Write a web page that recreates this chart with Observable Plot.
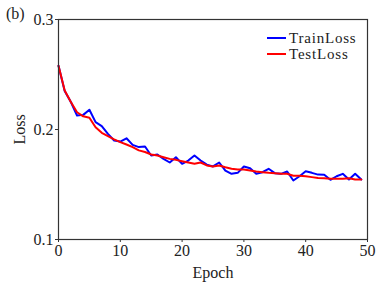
<!DOCTYPE html>
<html>
<head>
<meta charset="utf-8">
<script src="https://cdn.jsdelivr.net/npm/d3@7"></script>
<script src="https://cdn.jsdelivr.net/npm/@observablehq/plot@0.6"></script>
<style>
  html, body { margin: 0; padding: 0; background: #fff; }
  #wrap { position: relative; width: 382px; height: 286px; font-family: "Liberation Serif", "DejaVu Serif", serif; }
  #tag { position: absolute; left: 6px; top: 5px; font-size: 16px; color: #222; line-height: 18px; }
  #legend { position: absolute; left: 267px; top: 30px; font-size: 15px; color: #222; line-height: 16px; letter-spacing: 0.8px; }
  #legend div { display: flex; align-items: center; height: 16px; }
  #legend span.sw { display: inline-block; width: 19px; height: 2px; margin-right: 3px; }
</style>
</head>
<body>
<div id="wrap">
  <div id="chart"></div>
  <div id="tag">(b)</div>
  <div id="legend"></div>
</div>
<script>
const epochs = [0,1,2,3,4,5,6,7,8,9,10,11,12,13,14,15,16,17,18,19,20,21,22,23,24,25,26,27,28,29,30,31,32,33,34,35,36,37,38,39,40,41,42,43,44,45,46,47,48,49];
const trainLoss = [0.258,0.235,0.225,0.2127,0.2133,0.218,0.2067,0.203,0.196,0.190,0.189,0.192,0.186,0.184,0.1845,0.1764,0.1773,0.1733,0.170,0.1748,0.1688,0.1718,0.1764,0.1718,0.168,0.1664,0.170,0.1627,0.1597,0.1606,0.1664,0.1648,0.1597,0.1612,0.1643,0.1603,0.1597,0.1618,0.1536,0.1575,0.162,0.1606,0.159,0.1588,0.1543,0.1575,0.1597,0.1545,0.1597,0.1545];
const testLoss = [0.258,0.2355,0.225,0.2157,0.212,0.2107,0.202,0.197,0.194,0.191,0.1885,0.1864,0.184,0.181,0.1795,0.1773,0.1764,0.1748,0.1733,0.1724,0.1712,0.170,0.1688,0.170,0.1673,0.1664,0.1673,0.1657,0.1643,0.1636,0.1636,0.1627,0.1618,0.1612,0.1606,0.1603,0.1597,0.1597,0.158,0.158,0.1575,0.1567,0.156,0.1557,0.1552,0.1552,0.1552,0.1557,0.1545,0.1545];
const seriesNames = ["TrainLoss", "TestLoss"];
const seriesColors = ["#0000ff", "#ff0000"];
const xTicks = [0,10,20,30,40,50];
const yTicks = [0.1,0.2,0.3];

const rows = [];
epochs.forEach((e, i) => {
  rows.push({epoch: e, loss: trainLoss[i], series: seriesNames[0]});
  rows.push({epoch: e, loss: testLoss[i], series: seriesNames[1]});
});

const chart = Plot.plot({
  width: 382,
  height: 286,
  marginLeft: 58,
  marginRight: 15,
  marginTop: 19,
  marginBottom: 47,
  style: {fontFamily: '"Liberation Serif", "DejaVu Serif", serif', fontSize: "16px", color: "#222", background: "#fff"},
  x: {domain: [0, 50]},
  y: {domain: [0.1, 0.3]},
  color: {domain: seriesNames, range: seriesColors},
  marks: [
    Plot.line(rows, {x: "epoch", y: "loss", stroke: "series", z: "series", strokeWidth: 2}),
    Plot.frame({stroke: "#333", strokeWidth: 1.2}),
    Plot.axisX({ticks: xTicks, tickSize: 3, tickPadding: 2, label: "Epoch", labelAnchor: "center", labelArrow: "none", labelOffset: 38, fontSize: 16, stroke: "#333"}),
    Plot.axisY({ticks: yTicks, tickSize: 3, tickPadding: 2, tickFormat: d3.format(".1f"), label: "Loss", labelAnchor: "center", labelArrow: "none", labelOffset: 45, fontSize: 16, stroke: "#333"})
  ]
});
document.getElementById("chart").appendChild(chart);

const leg = document.getElementById("legend");
seriesNames.forEach((n, i) => {
  const d = document.createElement("div");
  const sw = document.createElement("span");
  sw.className = "sw";
  sw.style.background = seriesColors[i];
  d.appendChild(sw);
  d.appendChild(document.createTextNode(n));
  leg.appendChild(d);
});
</script>
</body>
</html>
